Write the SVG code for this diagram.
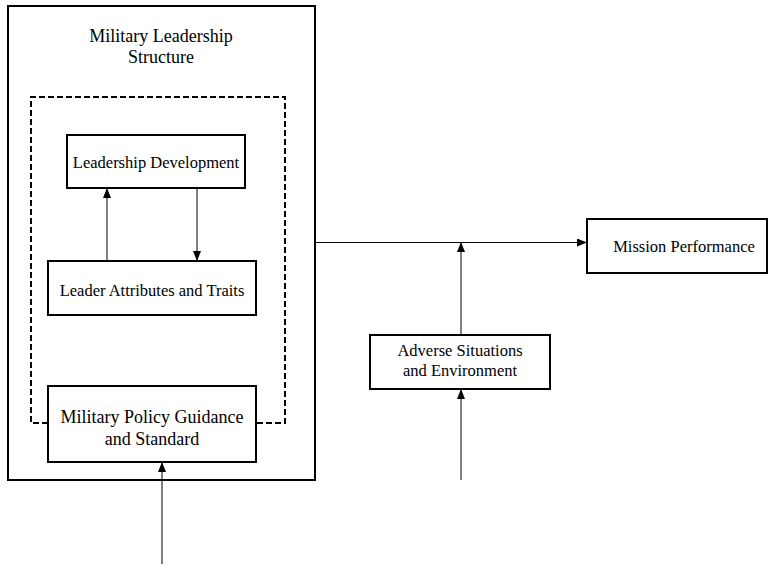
<svg xmlns="http://www.w3.org/2000/svg" width="774" height="568" viewBox="0 0 774 568">
<style>
.box{fill:#fff;stroke:#000;stroke-width:2}
.dash{fill:none;stroke:#000;stroke-width:2;stroke-dasharray:6,3}
.t{font-family:'Liberation Serif','DejaVu Serif',serif;font-size:16.5px;fill:#000;text-anchor:middle}
.big{font-size:18px}
.c{stroke:#000;stroke-width:1;fill:none}
</style>
<defs>
<marker id="ah" markerWidth="10" markerHeight="8" refX="9" refY="4" orient="auto" markerUnits="userSpaceOnUse">
<path d="M0,0 L10,4 L0,8 Z" fill="#000"/>
</marker>
</defs>
<g id="structure">
<rect class="box" x="8" y="6" width="307" height="474"/>
<text class="t big" x="161" y="42">Military Leadership</text>
<text class="t big" x="161" y="63">Structure</text>
</g>
<g id="inner-dashed">
<path class="dash" d="M48,423 H31 V97 H285 V423 H256"/>
</g>
<g id="leadership-development">
<rect class="box" x="67" y="135" width="178" height="53"/>
<text class="t" x="156" y="168">Leadership Development</text>
</g>
<g id="leader-attributes">
<rect class="box" x="48" y="261" width="208" height="54"/>
<text class="t" x="152" y="296">Leader Attributes and Traits</text>
</g>
<g id="military-policy">
<rect class="box" x="48" y="386" width="208" height="76"/>
<text class="t big" x="152" y="423">Military Policy Guidance</text>
<text class="t big" x="152" y="445">and Standard</text>
</g>
<g id="mission-performance">
<rect class="box" x="587" y="219" width="180" height="54"/>
<text class="t" x="684" y="252">Mission Performance</text>
</g>
<g id="adverse">
<rect class="box" x="370" y="335" width="180" height="54"/>
<text class="t" x="460" y="356">Adverse Situations</text>
<text class="t" x="460" y="376">and Environment</text>
</g>
<g id="connectors">
<line class="c" x1="107" y1="261" x2="107" y2="189" marker-end="url(#ah)"/>
<line class="c" x1="197" y1="189" x2="197" y2="260" marker-end="url(#ah)"/>
<line class="c" x1="316" y1="242.5" x2="586" y2="242.5" marker-end="url(#ah)"/>
<line class="c" x1="461" y1="334" x2="461" y2="243" marker-end="url(#ah)"/>
<line class="c" x1="461" y1="480" x2="461" y2="390" marker-end="url(#ah)"/>
<line class="c" x1="162" y1="564" x2="162" y2="463" marker-end="url(#ah)"/>
</g>
</svg>
